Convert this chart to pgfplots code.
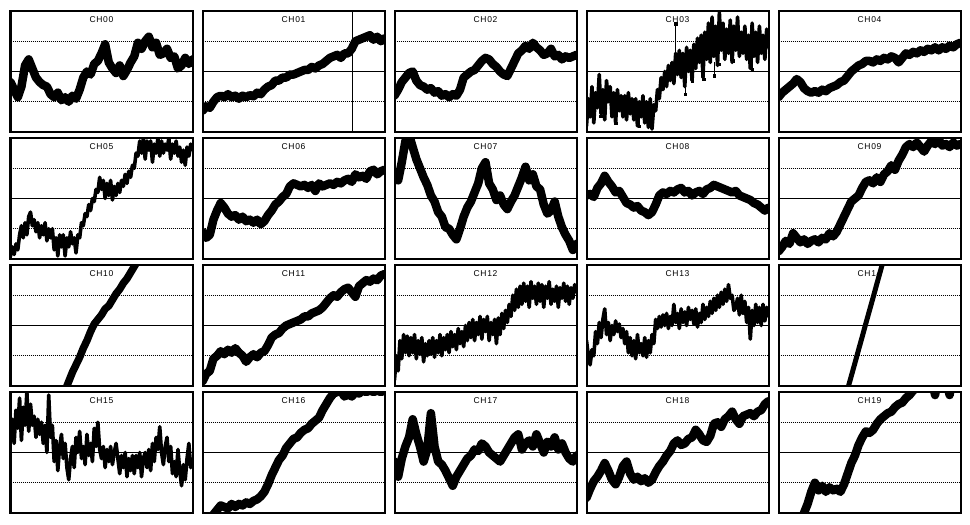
\documentclass[border=0pt]{standalone}
\usepackage{fontspec}
\usepackage{pgfplots}
\pgfplotsset{compat=1.18}
\newfontfamily\tfont[LetterSpace=8]{Liberation Sans}
\pgfplotsset{
 every axis title/.style={at={(0.5,1)},anchor=north,inner sep=0pt,yshift=-5.5bp,
   font=\tfont\fontsize{8.5bp}{9bp}\selectfont},
 panel/.style={width=182bp,height=121bp,scale only axis,anchor=south west,
  xmin=0,xmax=100,ymin=-2,ymax=2,xtick=\empty,ytick={-1,1},yticklabels={},
  ymajorgrids,grid style={black,line width=0.8bp,dash pattern=on 1bp off 1bp},
  extra y ticks={0},extra y tick labels={},
  extra y tick style={grid style={solid,black,line width=0.8bp}},
  major tick length=0pt,axis line style={line width=2bp}},
 trace/.style={black,line width=8.5bp,line join=round,line cap=round,no marks},
 noisy/.style={black,line width=3.6bp,line join=round,line cap=round,no marks},
 spike/.style={black,line width=0.8bp,no marks},
}
\begin{document}
\begin{tikzpicture}
\useasboundingbox (0,0) rectangle (970bp,525bp);
% ---------------- row 0
\begin{axis}[panel,at={(10.5bp,393bp)},title={CH00}]
\addplot[trace] coordinates {(0,-0.35)(2,-0.6)(4,-0.85)(6,-0.5)(8,0.2)(10,0.4)(12,0.1)(14,-0.2)(16,-0.35)(18,-0.45)(20,-0.5)(22,-0.75)(24,-0.85)(26,-0.7)(28,-0.95)(30,-0.85)(32,-1.0)(34,-0.8)(36,-0.9)(38,-0.6)(40,-0.2)(42,0.0)(44,-0.1)(46,0.25)(48,0.35)(50,0.6)(52,0.9)(54,0.3)(56,0.1)(58,-0.05)(60,0.2)(62,-0.15)(64,0.05)(66,0.3)(68,0.5)(70,0.95)(72,0.75)(74,1.0)(76,1.15)(78,0.8)(80,0.95)(82,0.55)(84,0.6)(86,0.75)(88,0.45)(90,0.5)(92,0.1)(94,0.2)(96,0.45)(98,0.25)(100,0.4)};
\end{axis}
\begin{axis}[panel,at={(202.5bp,393bp)},title={CH01}]
\addplot[trace] coordinates {(0,-1.3)(2,-1.15)(4,-1.2)(6,-1.0)(8,-0.85)(10,-0.8)(12,-0.85)(14,-0.75)(16,-0.85)(18,-0.8)(20,-0.9)(22,-0.8)(24,-0.85)(26,-0.78)(28,-0.82)(30,-0.7)(32,-0.75)(34,-0.6)(36,-0.5)(38,-0.45)(40,-0.3)(42,-0.3)(44,-0.2)(46,-0.2)(48,-0.1)(50,-0.1)(52,-0.05)(54,0.0)(56,0.05)(58,0.05)(60,0.15)(62,0.1)(64,0.2)(66,0.25)(68,0.35)(70,0.45)(72,0.5)(74,0.55)(76,0.45)(78,0.6)(80,0.6)(82,0.75)(84,1.0)(86,1.05)(88,1.1)(90,1.15)(92,1.2)(94,1.05)(96,1.15)(98,1.0)(100,1.1)};
\addplot[spike] coordinates {(82.5,-2.5)(82.5,2.5)};
\end{axis}
\begin{axis}[panel,at={(394.5bp,393bp)},title={CH02}]
\addplot[trace] coordinates {(0,-0.8)(2,-0.6)(4,-0.35)(6,-0.2)(8,-0.05)(10,0.0)(12,-0.3)(14,-0.45)(16,-0.5)(18,-0.6)(20,-0.55)(22,-0.7)(24,-0.65)(26,-0.8)(28,-0.75)(30,-0.85)(32,-0.75)(34,-0.8)(36,-0.6)(38,-0.2)(40,-0.1)(42,0.0)(44,0.05)(46,0.2)(48,0.35)(50,0.45)(52,0.4)(54,0.25)(56,0.15)(58,0.0)(60,-0.1)(62,-0.15)(64,0.1)(66,0.35)(68,0.6)(70,0.7)(72,0.85)(74,0.75)(76,0.95)(78,0.8)(80,0.7)(82,0.55)(84,0.6)(86,0.75)(88,0.5)(90,0.55)(92,0.4)(94,0.5)(96,0.45)(98,0.5)(100,0.55)};
\end{axis}
\begin{axis}[panel,at={(586.5bp,393bp)},title={CH03}]
\addplot[noisy] coordinates {(0,-1.8)(1,-0.9)(2,-1.5)(3,-0.5)(4,-1.7)(5,-0.7)(6,-1.2)(7,-0.1)(8,-1.4)(9,-0.6)(10,-1.6)(11,-0.3)(12,-1.0)(13,-0.5)(14,-1.5)(15,-0.7)(16,-1.7)(17,-0.6)(18,-1.3)(19,-0.8)(20,-1.5)(21,-0.8)(22,-1.6)(23,-0.7)(24,-1.4)(25,-0.9)(26,-1.6)(27,-0.9)(28,-1.8)(29,-1.0)(30,-1.5)(31,-0.8)(32,-1.7)(33,-1.0)(34,-1.85)(35,-0.9)(36,-1.9)(37,-1.1)(38,-1.3)(39,-0.6)(40,-0.9)(41,-0.2)(42,-0.6)(43,0.0)(44,-0.5)(45,0.2)(46,-0.3)(47,0.3)(48,-0.4)(49,0.6)(50,-0.1)(51,0.7)(52,-0.2)(53,0.6)(54,-0.5)(55,0.8)(56,0.0)(57,0.7)(58,-0.3)(59,0.9)(60,0.1)(61,1.1)(62,0.3)(63,1.2)(64,-0.2)(65,1.3)(66,0.4)(67,1.6)(68,0.3)(69,1.8)(70,0.5)(71,1.5)(72,0.2)(73,1.95)(74,0.7)(75,1.6)(76,0.4)(77,1.4)(78,0.6)(79,1.7)(80,0.3)(81,1.5)(82,0.7)(83,1.8)(84,0.5)(85,1.3)(86,0.6)(87,1.5)(88,0.4)(89,1.2)(90,0.1)(91,1.6)(92,0.5)(93,1.3)(94,0.3)(95,1.5)(96,0.6)(97,1.2)(98,0.4)(99,1.4)(100,0.8)};
\addplot[spike] coordinates {(49,0.4)(49,1.58)};
\addplot[spike,unbounded coords=jump] coordinates {(7.8,-1.0)(7.8,-1.48)(nan,nan)(16,-1.2)(16,-1.7)(nan,nan)(28.8,-1.3)(28.8,-1.81)(nan,nan)(54.4,-0.3)(54.4,-0.76)(nan,nan)(58,0.0)(58,-0.31)(nan,nan)(64.4,0.1)(64.4,-0.26)(nan,nan)(70,0.3)(70,-0.14)(nan,nan)(72.6,0.6)(72.6,0.24)(nan,nan)(80.8,0.7)(80.8,0.36)(nan,nan)(90.9,0.5)(90.9,0.08)};
\addplot[black,only marks,mark=square*,mark size=1.1bp] coordinates {(49,1.58)(7.8,-1.48)(16,-1.7)(28.8,-1.81)(54.4,-0.76)(58,-0.31)(64.4,-0.26)(70,-0.14)(72.6,0.24)(80.8,0.36)(90.9,0.08)};
\end{axis}
\begin{axis}[panel,at={(778.5bp,393bp)},title={CH04}]
\addplot[trace] coordinates {(0,-0.85)(2,-0.7)(4,-0.6)(6,-0.5)(8,-0.4)(10,-0.25)(12,-0.35)(14,-0.55)(16,-0.65)(18,-0.7)(20,-0.65)(22,-0.7)(24,-0.6)(26,-0.65)(28,-0.55)(30,-0.5)(32,-0.45)(34,-0.35)(36,-0.3)(38,-0.15)(40,0.0)(42,0.1)(44,0.2)(46,0.25)(48,0.35)(50,0.35)(52,0.3)(54,0.4)(56,0.35)(58,0.45)(60,0.4)(62,0.5)(64,0.45)(66,0.3)(68,0.45)(70,0.6)(72,0.55)(74,0.65)(76,0.6)(78,0.7)(80,0.65)(82,0.75)(84,0.7)(86,0.8)(88,0.7)(90,0.8)(92,0.75)(94,0.85)(96,0.8)(98,0.9)(100,0.95)};
\end{axis}
% ---------------- row 1
\begin{axis}[panel,at={(10.5bp,266bp)},title={CH05}]
\addplot[noisy] coordinates {(0,-1.9)(1,-1.6)(2,-1.85)(3,-1.5)(4,-1.7)(5,-1.2)(6,-0.9)(7,-1.3)(8,-0.8)(9,-1.2)(10,-0.6)(11,-0.45)(12,-0.9)(13,-0.7)(14,-1.1)(15,-0.8)(16,-1.3)(17,-0.9)(18,-1.2)(19,-0.8)(20,-1.4)(21,-1.0)(22,-1.3)(23,-1.0)(24,-1.7)(25,-1.3)(26,-1.9)(27,-1.2)(28,-1.6)(29,-1.2)(30,-1.9)(31,-1.3)(32,-1.6)(33,-1.1)(34,-1.5)(35,-1.3)(36,-1.8)(37,-1.2)(38,-1.3)(39,-0.8)(40,-0.9)(41,-0.5)(42,-0.6)(43,-0.2)(44,-0.4)(45,0.0)(46,-0.1)(47,0.3)(48,0.2)(49,0.7)(50,0.3)(51,0.6)(52,0.0)(53,0.5)(54,0.1)(55,0.6)(56,-0.05)(57,0.4)(58,0.1)(59,0.5)(60,0.2)(61,0.6)(62,0.4)(63,0.8)(64,0.5)(65,0.9)(66,0.7)(67,1.1)(68,1.0)(69,1.5)(70,1.4)(71,1.9)(72,1.5)(73,2.0)(74,1.3)(75,1.9)(76,1.6)(77,1.9)(78,1.2)(79,1.8)(80,1.5)(81,2.0)(82,1.4)(83,1.9)(84,1.5)(85,1.8)(86,1.6)(87,2.0)(88,1.3)(89,1.8)(90,1.5)(91,1.9)(92,1.4)(93,1.7)(94,1.2)(95,1.6)(96,1.1)(97,1.7)(98,1.4)(99,1.8)(100,1.6)};
\end{axis}
\begin{axis}[panel,at={(202.5bp,266bp)},title={CH06}]
\addplot[trace] coordinates {(0,-1.1)(2,-1.3)(4,-1.2)(6,-0.7)(8,-0.4)(10,-0.15)(12,-0.3)(14,-0.5)(16,-0.6)(18,-0.55)(20,-0.7)(22,-0.6)(24,-0.75)(26,-0.7)(28,-0.8)(30,-0.7)(32,-0.85)(34,-0.75)(36,-0.55)(38,-0.4)(40,-0.2)(42,-0.1)(44,0.05)(46,0.15)(48,0.4)(50,0.5)(52,0.45)(54,0.4)(56,0.45)(58,0.35)(60,0.45)(62,0.25)(64,0.5)(66,0.4)(68,0.45)(70,0.5)(72,0.45)(74,0.55)(76,0.5)(78,0.6)(80,0.65)(82,0.55)(84,0.8)(86,0.7)(88,0.75)(90,0.65)(92,0.9)(94,0.95)(96,0.8)(98,0.9)(100,0.95)};
\end{axis}
\begin{axis}[panel,at={(394.5bp,266bp)},title={CH07}]
\addplot[trace] coordinates {(0,0.8)(2,0.6)(4,1.2)(6,1.9)(8,2.1)(10,1.7)(12,1.3)(14,1.0)(16,0.7)(18,0.45)(20,0.1)(22,-0.1)(24,-0.45)(26,-0.6)(28,-0.95)(30,-1.0)(32,-1.2)(34,-1.35)(36,-1.0)(38,-0.6)(40,-0.3)(42,-0.1)(44,0.2)(46,0.5)(48,1.0)(50,1.2)(52,0.5)(54,0.3)(56,-0.05)(58,0.1)(60,-0.2)(62,-0.35)(64,-0.1)(66,0.1)(68,0.4)(70,0.7)(72,1.05)(74,0.6)(76,0.8)(78,0.4)(80,0.3)(82,-0.2)(84,-0.5)(86,-0.4)(88,-0.1)(90,-0.6)(92,-0.95)(94,-1.2)(96,-1.4)(98,-1.7)(100,-1.5)};
\end{axis}
\begin{axis}[panel,at={(586.5bp,266bp)},title={CH08}]
\addplot[trace] coordinates {(0,0.1)(2,0.15)(4,0.05)(6,0.35)(8,0.5)(10,0.75)(12,0.55)(14,0.4)(16,0.2)(18,0.25)(20,0.05)(22,-0.15)(24,-0.2)(26,-0.3)(28,-0.25)(30,-0.4)(32,-0.45)(34,-0.55)(36,-0.45)(38,-0.2)(40,0.1)(42,0.2)(44,0.15)(46,0.25)(48,0.2)(50,0.3)(52,0.35)(54,0.2)(56,0.25)(58,0.1)(60,0.2)(62,0.25)(64,0.15)(66,0.3)(68,0.35)(70,0.45)(72,0.4)(74,0.35)(76,0.3)(78,0.25)(80,0.2)(82,0.25)(84,0.1)(86,0.05)(88,0.0)(90,-0.05)(92,-0.15)(94,-0.2)(96,-0.3)(98,-0.4)(100,-0.3)};
\end{axis}
\begin{axis}[panel,at={(778.5bp,266bp)},title={CH09}]
\addplot[trace] coordinates {(0,-1.75)(2,-1.6)(4,-1.4)(6,-1.5)(8,-1.15)(10,-1.3)(12,-1.45)(14,-1.35)(16,-1.5)(18,-1.4)(20,-1.35)(22,-1.45)(24,-1.3)(26,-1.35)(28,-1.15)(30,-1.25)(32,-1.1)(34,-0.85)(36,-0.6)(38,-0.35)(40,-0.1)(42,0.0)(44,0.1)(46,0.35)(48,0.55)(50,0.6)(52,0.5)(54,0.7)(56,0.55)(58,0.8)(60,0.9)(62,1.1)(64,0.95)(66,1.25)(68,1.45)(70,1.7)(72,1.8)(74,1.7)(76,1.85)(78,1.7)(80,1.55)(82,1.75)(84,1.9)(86,1.8)(88,1.95)(90,1.75)(92,1.8)(94,1.7)(96,1.85)(98,1.75)(100,1.8)};
\end{axis}
% ---------------- row 2
\begin{axis}[panel,at={(10.5bp,139bp)},title={CH10}]
\addplot[trace,line width=7.5bp] coordinates {(16,-4.1)(18,-3.8)(20,-3.55)(22,-3.3)(24,-3.0)(26,-2.7)(28,-2.4)(30,-2.15)(32,-1.85)(34,-1.55)(36,-1.3)(38,-1.05)(40,-0.75)(42,-0.5)(44,-0.2)(46,0.05)(48,0.2)(50,0.35)(52,0.55)(54,0.65)(56,0.85)(58,1.05)(60,1.2)(62,1.4)(64,1.55)(66,1.75)(68,1.95)(70,2.15)(72,2.35)(74,2.55)(76,2.75)(78,2.95)};
\end{axis}
\begin{axis}[panel,at={(202.5bp,139bp)},title={CH11}]
\addplot[trace] coordinates {(0,-1.85)(2,-1.6)(4,-1.5)(6,-1.1)(8,-1.0)(10,-0.85)(12,-0.95)(14,-0.8)(16,-0.9)(18,-0.75)(20,-0.9)(22,-1.0)(24,-1.2)(26,-1.05)(28,-0.95)(30,-1.05)(32,-0.9)(34,-0.85)(36,-0.65)(38,-0.4)(40,-0.3)(42,-0.25)(44,-0.1)(46,0.0)(48,0.05)(50,0.1)(52,0.15)(54,0.2)(56,0.3)(58,0.3)(60,0.4)(62,0.45)(64,0.5)(66,0.6)(68,0.75)(70,0.9)(72,1.0)(74,0.95)(76,1.1)(78,1.2)(80,1.25)(82,1.1)(84,0.95)(86,1.3)(88,1.4)(90,1.5)(92,1.45)(94,1.55)(96,1.5)(98,1.65)(100,1.7)};
\end{axis}
\begin{axis}[panel,at={(394.5bp,139bp)},title={CH12}]
\addplot[noisy] coordinates {(0,-1.8)(1,-1.0)(2,-1.5)(3,-0.5)(4,-1.1)(5,-0.3)(6,-0.9)(7,-0.35)(8,-1.0)(9,-0.4)(10,-0.9)(11,-0.3)(12,-1.1)(13,-0.5)(14,-0.95)(15,-0.4)(16,-1.2)(17,-0.6)(18,-1.0)(19,-0.5)(20,-0.95)(21,-0.4)(22,-1.05)(23,-0.5)(24,-0.9)(25,-0.3)(26,-1.0)(27,-0.4)(28,-0.8)(29,-0.3)(30,-0.9)(31,-0.2)(32,-0.7)(33,-0.3)(34,-0.8)(35,-0.1)(36,-0.6)(37,-0.2)(38,-0.7)(39,0.0)(40,-0.5)(41,0.1)(42,-0.4)(43,0.2)(44,-0.5)(45,0.1)(46,-0.3)(47,0.3)(48,-0.45)(49,0.2)(50,-0.2)(51,0.3)(52,-0.5)(53,0.1)(54,-0.3)(55,0.2)(56,-0.6)(57,0.25)(58,-0.3)(59,0.4)(60,-0.1)(61,0.5)(62,0.1)(63,0.7)(64,0.3)(65,1.0)(66,0.5)(67,1.2)(68,0.6)(69,1.3)(70,0.7)(71,1.4)(72,0.8)(73,1.3)(74,0.6)(75,1.45)(76,0.9)(77,1.3)(78,0.7)(79,1.4)(80,0.8)(81,1.35)(82,0.6)(83,1.3)(84,0.9)(85,1.45)(86,0.7)(87,1.2)(88,0.8)(89,1.3)(90,0.6)(91,1.25)(92,0.9)(93,1.4)(94,0.8)(95,1.3)(96,0.7)(97,1.25)(98,0.9)(99,1.35)(100,1.1)};
\end{axis}
\begin{axis}[panel,at={(586.5bp,139bp)},title={CH13}]
\addplot[noisy] coordinates {(0,-0.5)(1,-1.0)(2,-1.3)(3,-0.8)(4,-1.0)(5,-0.2)(6,-0.6)(7,0.1)(8,-0.4)(9,0.2)(10,0.55)(11,-0.3)(12,0.1)(13,-0.5)(14,0.0)(15,-0.3)(16,0.15)(17,-0.2)(18,0.05)(19,-0.4)(20,-0.1)(21,-0.6)(22,-0.2)(23,-0.9)(24,-0.4)(25,-1.0)(26,-0.5)(27,-1.1)(28,-0.3)(29,-0.9)(30,-0.6)(31,-1.0)(32,-0.4)(33,-1.05)(34,-0.5)(35,-0.9)(36,-0.3)(37,-0.6)(38,0.2)(39,-0.1)(40,0.3)(41,-0.05)(42,0.35)(43,0.0)(44,0.4)(45,-0.1)(46,0.3)(47,0.0)(48,0.7)(49,0.1)(50,0.4)(51,-0.1)(52,0.55)(53,0.1)(54,0.45)(55,0.0)(56,0.6)(57,0.2)(58,0.5)(59,0.05)(60,0.55)(61,-0.05)(62,0.4)(63,0.1)(64,0.7)(65,0.2)(66,0.6)(67,0.3)(68,0.8)(69,0.4)(70,0.9)(71,0.5)(72,1.0)(73,0.6)(74,1.1)(75,0.7)(76,1.2)(77,0.8)(78,1.35)(79,0.9)(80,1.0)(81,0.5)(82,0.6)(83,0.9)(84,0.35)(85,1.0)(86,0.4)(87,0.8)(88,0.1)(89,0.6)(90,-0.45)(91,0.5)(92,0.0)(93,0.7)(94,0.1)(95,0.6)(96,0.0)(97,0.7)(98,0.15)(99,0.6)(100,0.3)};
\end{axis}
\begin{axis}[panel,at={(778.5bp,139bp)},title={CH14}]
\addplot[trace,line width=5bp] coordinates {(30,-3.84)(32,-3.41)(34,-2.97)(36,-2.54)(38,-2.1)(40,-1.67)(42,-1.24)(44,-0.8)(46,-0.37)(48,0.07)(50,0.5)(52,0.93)(54,1.37)(56,1.8)(58,2.24)(60,2.67)(62,3.1)(64,3.54)};
\end{axis}
% ---------------- row 3
\begin{axis}[panel,at={(10.5bp,12bp)},title={CH15}]
\addplot[noisy] coordinates {(0,0.6)(1,1.1)(2,0.3)(3,1.4)(4,0.8)(5,1.8)(6,0.4)(7,1.5)(8,0.9)(9,2.0)(10,0.7)(11,1.6)(12,0.9)(13,1.2)(14,0.5)(15,1.1)(16,0.6)(17,1.0)(18,0.3)(19,0.9)(20,0.0)(21,1.9)(22,0.5)(23,0.9)(24,-0.3)(25,0.4)(26,-0.6)(27,0.2)(28,0.6)(29,-0.2)(30,0.3)(31,-0.5)(32,-0.9)(33,-0.2)(34,0.2)(35,-0.5)(36,0.5)(37,0.0)(38,0.7)(39,-0.2)(40,0.2)(41,-0.4)(42,0.6)(43,-0.1)(44,0.3)(45,-0.3)(46,0.8)(47,0.2)(48,1.0)(49,0.1)(50,-0.2)(51,0.2)(52,-0.5)(53,0.1)(54,-0.3)(55,0.2)(56,-0.4)(57,0.0)(58,0.3)(59,-0.2)(60,-0.7)(61,-0.1)(62,-0.5)(63,0.0)(64,-0.8)(65,-0.2)(66,-0.6)(67,-0.1)(68,-0.7)(69,-0.1)(70,-0.5)(71,0.0)(72,-0.8)(73,-0.2)(74,0.0)(75,-0.5)(76,0.1)(77,-0.6)(78,0.3)(79,-0.3)(80,0.5)(81,0.1)(82,0.85)(83,0.0)(84,-0.4)(85,0.2)(86,0.5)(87,-0.3)(88,0.2)(89,-0.7)(90,-0.3)(91,-0.8)(92,0.1)(93,-0.6)(94,-1.1)(95,-0.4)(96,-0.9)(97,-0.2)(98,0.3)(99,-0.5)(100,-0.2)};
\end{axis}
\begin{axis}[panel,at={(202.5bp,12bp)},title={CH16}]
\addplot[trace] coordinates {(0,-2.4)(2,-2.3)(4,-2.2)(6,-2.05)(8,-1.9)(10,-1.75)(12,-1.8)(14,-1.85)(16,-1.7)(18,-1.8)(20,-1.7)(22,-1.75)(24,-1.65)(26,-1.7)(28,-1.6)(30,-1.55)(32,-1.45)(34,-1.3)(36,-1.05)(38,-0.75)(40,-0.5)(42,-0.25)(44,-0.1)(46,0.15)(48,0.3)(50,0.45)(52,0.5)(54,0.65)(56,0.75)(58,0.8)(60,0.95)(62,1.05)(64,1.15)(66,1.4)(68,1.6)(70,1.8)(72,1.95)(74,2.0)(76,2.05)(78,1.85)(80,1.95)(82,1.85)(84,2.0)(86,1.95)(88,2.05)(90,2.0)(92,2.05)(94,2.0)(96,2.05)(98,2.0)(100,2.05)};
\end{axis}
\begin{axis}[panel,at={(394.5bp,12bp)},title={CH17}]
\addplot[trace] coordinates {(0,-0.3)(2,-0.8)(4,-0.2)(6,0.2)(8,0.5)(10,1.1)(12,0.6)(14,0.2)(16,-0.3)(18,0.1)(20,1.3)(22,0.2)(24,-0.3)(26,-0.4)(28,-0.6)(30,-0.85)(32,-1.1)(34,-0.8)(36,-0.6)(38,-0.4)(40,-0.2)(42,-0.1)(44,0.1)(46,0.05)(48,0.3)(50,0.2)(52,0.0)(54,-0.1)(56,-0.2)(58,-0.3)(60,-0.1)(62,0.1)(64,0.3)(66,0.5)(68,0.6)(70,0.1)(72,0.3)(74,0.4)(76,0.2)(78,0.6)(80,0.3)(82,0.0)(84,0.35)(86,0.2)(88,0.5)(90,0.1)(92,0.3)(94,0.0)(96,-0.2)(98,-0.3)(100,-0.1)};
\end{axis}
\begin{axis}[panel,at={(586.5bp,12bp)},title={CH18}]
\addplot[trace] coordinates {(0,-1.5)(2,-1.2)(4,-0.95)(6,-0.8)(8,-0.6)(10,-0.35)(12,-0.6)(14,-0.9)(16,-1.05)(18,-0.8)(20,-0.45)(22,-0.3)(24,-0.7)(26,-0.9)(28,-0.8)(30,-0.95)(32,-0.85)(34,-1.0)(36,-0.9)(38,-0.65)(40,-0.45)(42,-0.3)(44,-0.1)(46,0.05)(48,0.3)(50,0.4)(52,0.25)(54,0.3)(56,0.45)(58,0.5)(60,0.75)(62,0.6)(64,0.4)(66,0.35)(68,0.55)(70,0.95)(72,1.0)(74,0.85)(76,1.1)(78,1.2)(80,1.35)(82,1.1)(84,0.95)(86,1.2)(88,1.25)(90,1.3)(92,1.2)(94,1.35)(96,1.4)(98,1.6)(100,1.7)};
\end{axis}
\begin{axis}[panel,at={(778.5bp,12bp)},title={CH19}]
\addplot[trace] coordinates {(8,-2.7)(10,-2.5)(12,-2.3)(14,-2.0)(16,-1.7)(18,-1.3)(20,-1.0)(22,-1.25)(24,-1.1)(26,-1.3)(28,-1.15)(30,-1.25)(32,-1.2)(34,-1.3)(36,-1.05)(38,-0.7)(40,-0.35)(42,-0.1)(44,0.25)(46,0.5)(48,0.7)(50,0.65)(52,0.75)(54,0.95)(56,1.1)(58,1.2)(60,1.3)(62,1.35)(64,1.5)(66,1.6)(68,1.65)(70,1.8)(72,1.9)(74,2.05)(76,2.15)(78,2.3)(80,2.4)(82,2.5)(84,2.6)(86,1.9)(88,2.5)(90,2.6)(92,2.5)(94,1.9)(96,2.6)(98,2.7)(100,2.8)};
\end{axis}
\end{tikzpicture}
\end{document}
